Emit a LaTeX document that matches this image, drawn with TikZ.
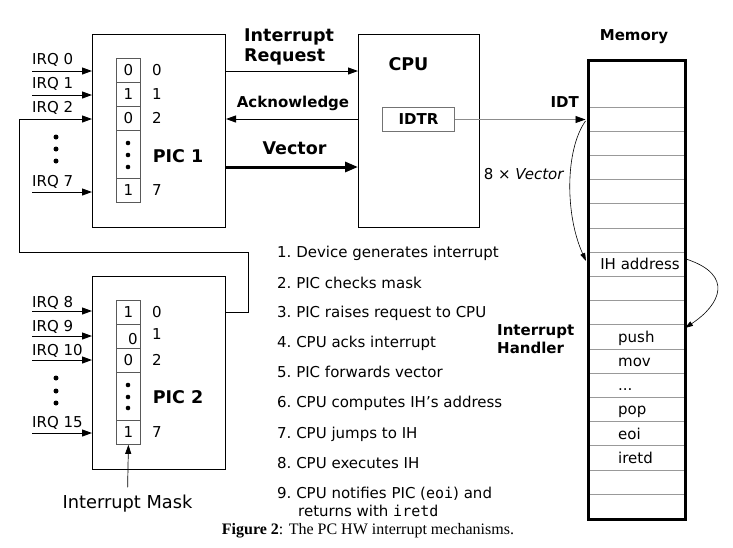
\documentclass[tikz,border=0pt]{standalone}
\usepackage{fontspec}
\setmainfont{DejaVu Sans}
\setmonofont{DejaVu Sans Mono}
\newfontfamily\capfont{Liberation Serif}
\usetikzlibrary{arrows.meta,calc}
\begin{document}
\begin{tikzpicture}[x=1pt,y=-1pt,
  font=\fontsize{15}{18}\selectfont,
  txt/.style={inner sep=0pt,text height=10.9pt,text depth=0pt},
  bld/.style={txt,font=\fontsize{15}{18}\selectfont\bfseries},
  bigbld/.style={inner sep=0pt,text height=12.8pt,text depth=0pt,font=\fontsize{17.5}{21}\selectfont\bfseries},
  box/.style={draw,line width=1pt,inner sep=0pt,anchor=north west},
  cell/.style={draw=black!65,line width=0.8pt,minimum width=24pt,minimum height=24pt,inner sep=0pt,anchor=north west,text height=10.9pt,text depth=0pt},
  arr/.style={line width=1pt,-{Triangle[length=10pt,width=7pt]}},
  thinarr/.style={line width=0.7pt,-{Triangle[length=9pt,width=6pt]}},
  bigarr/.style={line width=3pt,-{Triangle[length=13pt,width=10pt]}},
  curvearr/.style={line width=0.6pt,-{Triangle[length=8pt,width=5pt]}},
  memline/.style={draw=black!40,line width=1pt},
  dot/.style={circle,fill=black,inner sep=0pt,minimum size=4.6pt}
]
\useasboundingbox (0,0) rectangle (733,547);

% ---------- PIC 1 ----------
\node[box,minimum width=133pt,minimum height=193pt] (pic1) at (92,34) {};
\node[bigbld] (pic1lbl) at (178,156) {PIC 1};
\node[cell] (a0) at (116,58) {0};
\node[cell] (a1) at (116,82) {1};
\node[cell] (a2) at (116,106) {0};
\node[cell,minimum height=48pt] (ad) at (116,130) {};
\node[cell] (a7) at (116,178) {1};
\foreach \yy [count=\i] in {143,155,167} \node[dot] (ad\i) at (128,\yy) {};
\node[txt,anchor=west] (a0l) at (152,70) {0};
\node[txt,anchor=west] (a1l) at (152,94) {1};
\node[txt,anchor=west] (a2l) at (152,118) {2};
\node[txt,anchor=west] (a7l) at (152,190) {7};

\node[txt,anchor=west] (q0) at (32,59) {IRQ 0};
\node[txt,anchor=west] (q1) at (32,83) {IRQ 1};
\node[txt,anchor=west] (q2) at (32,107) {IRQ 2};
\node[txt,anchor=west] (q7) at (32,181) {IRQ 7};
\coordinate (i0) at (32,71);
\coordinate (i1) at (32,95);
\coordinate (i7) at (32,192);
\draw[arr] (i0) -- (i0 -| pic1.west);
\draw[arr] (i1) -- (i1 -| pic1.west);
\draw[arr] (i7) -- (i7 -| pic1.west);
\foreach \yy [count=\i] in {137,149,161} \node[dot,minimum size=5pt] (ld\i) at (56,\yy) {};

% ---------- PIC 2 ----------
\node[box,minimum width=133pt,minimum height=193pt] (pic2) at (92,276) {};
\node[bigbld] (pic2lbl) at (178,397) {PIC 2};
\node[cell] (b0) at (116,300) {1};
\node[cell] (b1) at (116,324) {};
\node[txt] (b1v) at (133,339) {0};
\node[cell] (b2) at (116,348) {0};
\node[cell,minimum height=48pt] (bd) at (116,372) {};
\node[cell] (b7) at (116,420) {1};
\foreach \yy [count=\i] in {385,397,408} \node[dot] (bd\i) at (128,\yy) {};
\node[txt,anchor=west] (b0l) at (152,312) {0};
\node[txt,anchor=west] (b1l) at (152,334) {1};
\node[txt,anchor=west] (b2l) at (152,360) {2};
\node[txt,anchor=west] (b7l) at (152,432) {7};

\node[txt,anchor=west] (q8) at (32,302) {IRQ 8};
\node[txt,anchor=west] (q9) at (32,326) {IRQ 9};
\node[txt,anchor=west] (q10) at (32,350) {IRQ 10};
\node[txt,anchor=west] (q15) at (32,422) {IRQ 15};
\coordinate (i8) at (32,311);
\coordinate (i9) at (32,336);
\coordinate (i10) at (32,360);
\coordinate (i15) at (32,433);
\draw[arr] (i8) -- (i8 -| pic2.west);
\draw[arr] (i9) -- (i9 -| pic2.west);
\draw[arr] (i10) -- (i10 -| pic2.west);
\draw[arr] (i15) -- (i15 -| pic2.west);
\foreach \yy [count=\i] in {378,391,403} \node[dot,minimum size=5pt] (md\i) at (56,\yy) {};

\node[inner sep=0pt,text height=13pt,text depth=0pt,font=\fontsize{17.8}{21}\selectfont] (imask) at (127.5,502) {Interrupt Mask};
\draw[thinarr,shorten <=8pt] (imask.north) -- (b7.south);

% cascade IRQ 2
\coordinate (p2o) at (pic2.east |- 0,312);
\coordinate (c1) at (248,312);
\coordinate (c2) at (248,252);
\coordinate (c3) at (19,252);
\coordinate (c4) at (19,119);
\draw[arr] (p2o) -- (c1) -- (c2) -- (c3) -- (c4) -- (c4 -| pic1.west);

% ---------- CPU ----------
\node[box,minimum width=121pt,minimum height=193pt] (cpu) at (358,34) {};
\node[bigbld] (cpulbl) at (408.5,64) {CPU};
\node[box,draw=black!55,minimum width=72pt,minimum height=24pt] (idtr) at (382,107) {};
\node[bld] (idtrlbl) at (idtr.center) {IDTR};

\node[bigbld,anchor=west] (irq1) at (244,35) {Interrupt};
\node[bigbld,anchor=west] (irq2) at (244,55) {Request};
\node[bld] (ack) at (293,102) {Acknowledge};
\node[bigbld] (vec) at (294.5,148) {Vector};
\draw[arr] (pic1.east |- 0,71) -- (cpu.west |- 0,71);
\draw[arr] (cpu.west |- 0,119) -- (pic1.east |- 0,119);
\draw[bigarr] (pic1.east |- 0,167) -- (cpu.west |- 0,167);

% ---------- Memory ----------
\node[bld] (memlbl) at (634,35) {Memory};
\coordinate (mtl) at (587,59);
\coordinate (mbr) at (684,518);
\foreach \k in {0,...,16}{
  \pgfmathsetmacro{\yy}{107+24.2*\k}
  \draw[memline] (mtl |- 0,\yy) -- (mbr |- 0,\yy);
}
\node[draw,line width=3pt,inner sep=0pt,anchor=north west,minimum width=97pt,minimum height=459pt] (mem) at (mtl) {};
\node[txt] (ihaddr) at (640,264.3) {IH address};
\node[txt,anchor=west] (mpush) at (618,336.9) {push};
\node[txt,anchor=west] (mmov) at (618,361.1) {mov};
\node[txt,anchor=west] (mdots) at (618,385.3) {...};
\node[txt,anchor=west] (mpop) at (618,409.5) {pop};
\node[txt,anchor=west] (meoi) at (618,433.7) {eoi};
\node[txt,anchor=west] (miretd) at (618,457.9) {iretd};

\node[bld,anchor=east] (idt) at (579,102) {IDT};
\node[txt] (eightv) at (524,174) {8 × \textit{Vector}};
\node[bld,anchor=west] (ih1) at (497,330) {Interrupt};
\node[bld,anchor=west] (ih2) at (497,348) {Handler};

\coordinate (idtin) at (mem.west |- idtr.east);
\draw[line width=0.8pt,draw=black!45,-{Triangle[length=10pt,width=7pt,color=black]},shorten >=1.5pt] (idtr.east) -- (idtin);
\coordinate (ihin) at (586,261);
\draw[curvearr] (585.5,121) .. controls (565,150) and (565,215) .. (ihin);
\coordinate (ihout) at (686,259);
\coordinate (pushin) at (685,328);
\draw[curvearr] (ihout) .. controls (735,275) and (720,305) .. (pushin);

% ---------- steps ----------
\node[txt,anchor=west] (s1) at (277,252) {1.~Device generates interrupt};
\node[txt,anchor=west] (s2) at (277,283) {2.~PIC checks mask};
\node[txt,anchor=west] (s3) at (277,312) {3.~PIC raises request to CPU};
\node[txt,anchor=west] (s4) at (277,342) {4.~CPU acks interrupt};
\node[txt,anchor=west] (s5) at (277,372) {5.~PIC forwards vector};
\node[txt,anchor=west] (s6) at (277,402) {6.~CPU computes IH’s address};
\node[txt,anchor=west] (s7) at (277,433) {7.~CPU jumps to IH};
\node[txt,anchor=west] (s8) at (277,463) {8.~CPU executes IH};
\node[txt,anchor=west] (s9) at (277,493) {9.~CPU notifies PIC (\texttt{eoi}) and};
\node[txt,anchor=west] (s9b) at (298,511) {returns with \texttt{iretd}};

% ---------- caption ----------
\node[inner sep=0pt,text height=10.6pt,text depth=0pt,font=\capfont\fontsize{16}{18}\selectfont] (cap) at (368,529.5) {\textbf{Figure 2}: The PC HW interrupt mechanisms.};
\end{tikzpicture}
\end{document}
